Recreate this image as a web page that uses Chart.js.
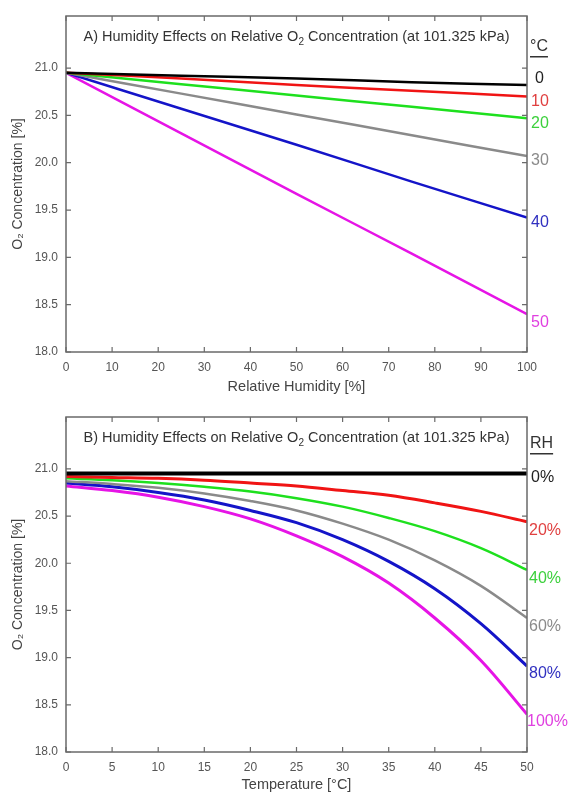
<!DOCTYPE html>
<html>
<head>
<meta charset="utf-8">
<script src="https://cdn.jsdelivr.net/npm/chart.js@4.4.1/dist/chart.umd.min.js"></script>
<style>
  html, body { margin: 0; padding: 0; background: #fff; }
  .box { position: absolute; left: 0; width: 569px; height: 398px; }
  #topBox { top: 0; }
  #botBox { top: 398px; }
</style>
</head>
<body>
<div class="box" id="topBox"><canvas id="humChart"></canvas></div>
<div class="box" id="botBox"><canvas id="tempChart"></canvas></div>
<script>
// --- chart A: O2 vs relative humidity, one line per temperature
const rhPoints = [0, 25, 50, 75, 100];
const tempNames = ['0', '10', '20', '30', '40', '50'];
const o2At0C  = [20.95, 20.92, 20.89, 20.85, 20.82];
const o2At10C = [20.95, 20.89, 20.82, 20.76, 20.70];
const o2At20C = [20.95, 20.83, 20.71, 20.59, 20.47];
const o2At30C = [20.95, 20.73, 20.51, 20.29, 20.07];
const o2At40C = [20.95, 20.57, 20.19, 19.80, 19.42];
const o2At50C = [20.95, 20.31, 19.67, 19.04, 18.40];

// --- chart B: O2 vs temperature, one line per RH
const tempPoints = [0, 5, 10, 15, 20, 25, 30, 35, 40, 45, 50];
const rhNames = ['0%', '20%', '40%', '60%', '80%', '100%'];
const o2Rh0   = [20.95, 20.95, 20.95, 20.95, 20.95, 20.95, 20.95, 20.95, 20.95, 20.95, 20.95];
const o2Rh20  = [20.92, 20.91, 20.90, 20.88, 20.85, 20.82, 20.77, 20.72, 20.64, 20.55, 20.44];
const o2Rh40  = [20.90, 20.88, 20.85, 20.81, 20.76, 20.69, 20.60, 20.48, 20.34, 20.16, 19.93];
const o2Rh60  = [20.87, 20.84, 20.80, 20.74, 20.66, 20.56, 20.42, 20.25, 20.03, 19.76, 19.42];
const o2Rh80  = [20.85, 20.81, 20.75, 20.67, 20.56, 20.43, 20.25, 20.02, 19.73, 19.36, 18.91];
const o2Rh100 = [20.82, 20.77, 20.70, 20.60, 20.47, 20.29, 20.07, 19.79, 19.42, 18.97, 18.40];

const yTicks = [18.0, 18.5, 19.0, 19.5, 20.0, 20.5, 21.0];

const lineColors = ['#000000', '#f01414', '#1ee01e', '#8a8a8a', '#1414c8', '#e614e6'];
const textColors = ['#222222', '#e04040', '#3cd03c', '#8a8a8a', '#3030c0', '#e040e0'];

const FONT = '"Liberation Sans", Arial, sans-serif';

const framePlugin = {
  id: 'frame',
  afterDraw(chart, args, opts) {
    const { ctx, chartArea: a, scales } = chart;
    const xs = scales.x, ys = scales.y;
    ctx.save();

    // frame
    ctx.strokeStyle = '#6a6a6a';
    ctx.lineWidth = 1.5;
    ctx.strokeRect(a.left, a.top, a.right - a.left, a.bottom - a.top);

    // inward tick marks on all four sides
    ctx.lineWidth = 1.2;
    ctx.beginPath();
    xs.ticks.forEach(t => {
      const px = xs.getPixelForValue(t.value);
      ctx.moveTo(px, a.bottom); ctx.lineTo(px, a.bottom - 5);
      ctx.moveTo(px, a.top); ctx.lineTo(px, a.top + 5);
    });
    ys.ticks.forEach(t => {
      const py = ys.getPixelForValue(t.value);
      ctx.moveTo(a.left, py); ctx.lineTo(a.left + 5, py);
      ctx.moveTo(a.right, py); ctx.lineTo(a.right - 5, py);
    });
    ctx.stroke();

    // title inside the plot, with subscript 2
    ctx.fillStyle = '#333';
    ctx.textBaseline = 'middle';
    const big = '14.5px ' + FONT, small = '10px ' + FONT;
    const parts = [[opts.titleStart, big, 0], ['2', small, 5], [' Concentration (at 101.325 kPa)', big, 0]];
    let w = 0;
    parts.forEach(p => { ctx.font = p[1]; w += ctx.measureText(p[0]).width; });
    let x = (a.left + a.right) / 2 - w / 2;
    const ty = a.top + 21;
    ctx.textAlign = 'left';
    parts.forEach(p => {
      ctx.font = p[1];
      ctx.fillText(p[0], x, ty + p[2]);
      x += ctx.measureText(p[0]).width;
    });

    // unit header on the right, underlined
    ctx.font = '16px ' + FONT;
    ctx.fillStyle = '#333';
    const ux = a.right + 3, uy = a.top + opts.unitDy;
    ctx.fillText(opts.unit, ux, uy);
    const uw = ctx.measureText(opts.unit).width;
    ctx.fillRect(ux, uy + 9, uw, 1.5);

    // series labels at the line ends
    ctx.font = '16px ' + FONT;
    chart.data.datasets.forEach((ds, i) => {
      const last = ds.data[ds.data.length - 1];
      const py = ys.getPixelForValue(last.y) + opts.offsets[i];
      ctx.fillStyle = textColors[i];
      ctx.fillText(opts.names[i], a.right + opts.labelDx[i], py);
    });

    ctx.restore();
  }
};

function makeSets(xVals, series, widths) {
  return series.map((s, i) => ({
    data: s.map((v, j) => ({ x: xVals[j], y: v })),
    borderColor: lineColors[i],
    borderWidth: widths[i],
    pointRadius: 0,
    tension: 0.35,
    fill: false
  }));
}

function makeChart(id, sets, xMax, xStep, xTitle, pad, xHeight, frameOpts) {
  return new Chart(document.getElementById(id), {
    type: 'line',
    data: { datasets: sets },
    options: {
      responsive: true,
      maintainAspectRatio: false,
      animation: false,
      layout: { padding: pad },
      plugins: { legend: { display: false }, tooltip: { enabled: false }, frame: frameOpts },
      scales: {
        x: {
          type: 'linear', min: 0, max: xMax,
          grid: { display: false }, border: { display: false },
          ticks: { stepSize: xStep, color: '#555', font: { family: FONT, size: 12 }, padding: 0, maxRotation: 0 },
          title: { display: true, text: xTitle, color: '#444', font: { family: FONT, size: 14.5 }, padding: { top: 0, bottom: 2 } },
          afterFit: s => { s.height = xHeight; }
        },
        y: {
          min: 18.0, max: 21.55,
          grid: { display: false }, border: { display: false },
          afterBuildTicks: s => { s.ticks = yTicks.map(v => ({ value: v })); },
          ticks: { color: '#555', font: { family: FONT, size: 12 }, padding: 0, callback: v => v.toFixed(1) },
          title: { display: true, text: 'O\u2082 Concentration [%]', color: '#444', font: { family: FONT, size: 14 }, padding: { top: 10, bottom: 0 } },
          afterFit: s => { s.width = 66; }
        }
      }
    },
    plugins: [framePlugin]
  });
}

makeChart('humChart',
  makeSets(rhPoints, [o2At0C, o2At10C, o2At20C, o2At30C, o2At40C, o2At50C], [2.5, 2.5, 2.5, 2.5, 2.5, 2.5]),
  100, 10, 'Relative Humidity [%]',
  { left: 0, right: 42, top: 16, bottom: 0 }, 46,
  { titleStart: 'A) Humidity Effects on Relative O', unit: '\u00b0C', unitDy: 31,
    names: tempNames, offsets: [-6, 5, 5, 5, 5, 8], labelDx: [8, 4, 4, 4, 4, 4] });

makeChart('tempChart',
  makeSets(tempPoints, [o2Rh0, o2Rh20, o2Rh40, o2Rh60, o2Rh80, o2Rh100], [4, 3, 2.5, 2.5, 3, 3]),
  50, 5, 'Temperature [\u00b0C]',
  { left: 0, right: 42, top: 19, bottom: 0 }, 44,
  { titleStart: 'B) Humidity Effects on Relative O', unit: 'RH', unitDy: 27,
    names: rhNames, offsets: [4, 9, 9, 9, 7, 7], labelDx: [4, 2, 2, 2, 2, 0] });
</script>
</body>
</html>
